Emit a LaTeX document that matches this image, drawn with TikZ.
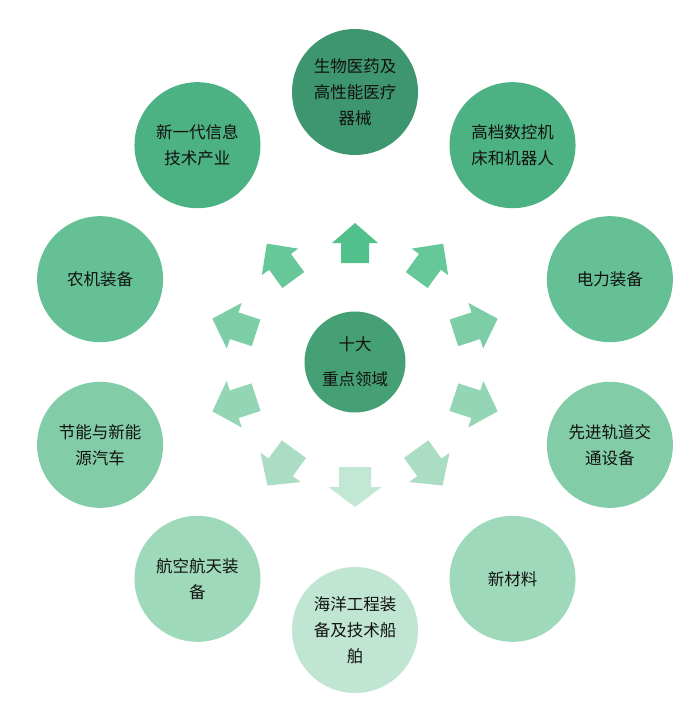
\documentclass[tikz,border=0pt]{standalone}
\usepackage{fontspec}
\newfontfamily\cjk{Noto Sans CJK SC}
\definecolor{cc}{HTML}{45A175}
\definecolor{o0}{HTML}{3E9670}
\definecolor{o1}{HTML}{4CB183}
\definecolor{o2}{HTML}{65C195}
\definecolor{o3}{HTML}{82CDA8}
\definecolor{o4}{HTML}{9ED9BC}
\definecolor{o5}{HTML}{C0E6D3}
\definecolor{a0}{HTML}{52C08A}
\definecolor{a1}{HTML}{66C799}
\definecolor{a2}{HTML}{7DCEA6}
\definecolor{a3}{HTML}{93D5B4}
\definecolor{a4}{HTML}{AADDC4}
\definecolor{a5}{HTML}{C2E7D5}
\definecolor{txt}{HTML}{111111}
\tikzset{
  outer/.style={circle, minimum size=126pt, inner sep=0pt, align=center,
    text=txt, font=\cjk\fontsize{16.5}{26}\selectfont},
  hub/.style={circle, minimum size=101pt, inner sep=0pt, align=center,
    text=txt, fill=cc, font=\cjk\fontsize{16.5}{26}\selectfont}
}
\begin{document}
\begin{tikzpicture}[x=1pt,y=1pt]
\useasboundingbox (0,0) rectangle (694,-706);
\coordinate (C) at (355,-362);
\node[hub] (hub) at (C) {十大\\[9pt]重点领域};
% outward arrows: angle / colour index / inner radius / length / half shaft / half head
\foreach \a/\k/\r/\L/\ws/\wh in {0/0/102/40/14/23, 36/1/105/45/13.5/22.5, 72/2/104/46/14/24,
    108/3/104/46/14.5/24.5, 144/4/104/45/15/25, 180/5/102/40/16/26.5,
    216/4/104/45/15/25, 252/3/104/46/14.5/24.5, 288/2/104/46/14/24, 324/1/105/45/13.5/22.5}{
  \pgfmathsetmacro{\m}{\r+\L/2}
  \pgfmathsetmacro{\t}{\r+\L}
  \fill[a\k, shift={(355,-365)}, rotate=-\a]
    (-\ws,\r) -- (\ws,\r) -- (\ws,\m) -- (\wh,\m) -- (0,\t)
    -- (-\wh,\m) -- (-\ws,\m) -- cycle;
}
\node[outer, fill=o0] (n0) at ([shift={(90:270)}]C) {生物医药及\\高性能医疗\\器械};
\node[outer, fill=o1] (n1) at ([shift={(54:268)}]C) {高档数控机\\床和机器人};
\node[outer, fill=o2] (n2) at ([shift={(18:268)}]C) {电力装备};
\node[outer, fill=o3] (n3) at ([shift={(-18:268)}]C) {先进轨道交\\通设备};
\node[outer, fill=o4] (n4) at ([shift={(-54:268)}]C) {新材料};
\node[outer, fill=o5] (n5) at ([shift={(-90:268)}]C) {海洋工程装\\备及技术船\\舶};
\node[outer, fill=o4] (n6) at ([shift={(-126:268)}]C) {航空航天装\\备};
\node[outer, fill=o3] (n7) at ([shift={(-162:268)}]C) {节能与新能\\源汽车};
\node[outer, fill=o2] (n8) at ([shift={(162:268)}]C) {农机装备};
\node[outer, fill=o1] (n9) at ([shift={(126:268)}]C) {新一代信息\\技术产业};
\end{tikzpicture}
\end{document}
